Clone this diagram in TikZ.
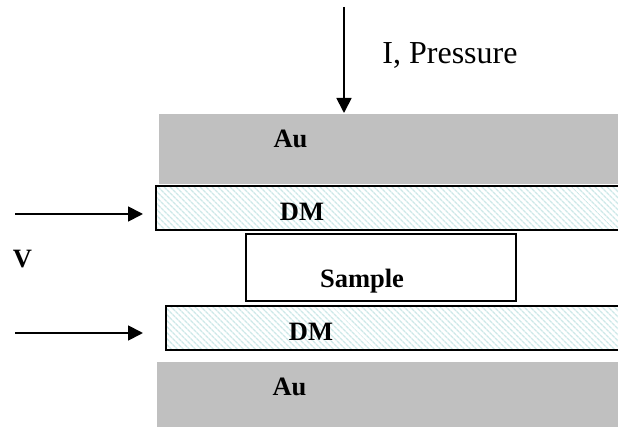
\documentclass[tikz,border=0pt]{standalone}
\usepackage{fontspec}
\setmainfont{Liberation Serif}
\usetikzlibrary{%
  arrows.meta,%
  patterns.meta,% hatch of the DM layers
  positioning%
}
\definecolor{augray}{RGB}{192,192,192}
\definecolor{dmhatch}{RGB}{205,232,232}

\begin{document}
\begin{tikzpicture}
  [
  x=1pt, y=-1pt, line width=1.8pt, >={Triangle[length=15pt,width=15pt]},
  goldlayer/.style={rectangle, inner sep=0pt, anchor=north west, fill=augray},
  dmlayer/.style={rectangle, inner sep=0pt, outer sep=0pt, anchor=north west, draw=black, line width=2pt,
    pattern={Lines[angle=-45,distance=4pt,line width=1.6pt]}, pattern color=dmhatch},
  samplebox/.style={rectangle, inner sep=0pt, outer sep=0pt, anchor=north west, draw=black, line width=2pt, fill=white},
  lbl/.style={inner sep=0pt, font=\fontsize{26.5}{30}\selectfont\bfseries},
  ]
  \useasboundingbox (0,0) rectangle (618,427);

  \node[goldlayer, minimum width=460pt, minimum height=70pt] (au1) at (158,113) {};
  \node[goldlayer, minimum width=462pt, minimum height=66pt] (au2) at (156,361) {};
  \node[dmlayer, minimum width=466pt, minimum height=44pt] (dm1) at (156,186) {};
  \node[dmlayer, minimum width=456pt, minimum height=44pt] (dm2) at (166,306) {};
  \node[samplebox, minimum width=270pt, minimum height=67.5pt] (sample) at (246,234) {};

  % labels
  \node[lbl] (au1lbl) at (290.5,139) {Au};
  \node[lbl] (au2lbl) at (289.5,387) {Au};
  \node[lbl] (dm1lbl) at (302,211.5) {DM};
  \node[lbl] (dm2lbl) at (311,331.5) {DM};
  \node[lbl] (samplelbl) at (362,281) {Sample};
  \node[lbl] (vlbl) at (22.5,259) {V};
  \node[inner sep=0pt, font=\fontsize{32}{36}\selectfont] (ilbl) at (450,55) {I, Pressure};

  % arrows
  \coordinate (itop) at (344,7);
  \coordinate (v1) at (15,214);
  \coordinate (v1end) at (143,214);
  \coordinate (v2) at (15,333);
  \coordinate (v2end) at (143,333);
  \draw[->] (itop) -- (itop |- au1.north);
  \draw[->] (v1) -- (v1end);
  \draw[->] (v2) -- (v2end);
\end{tikzpicture}
\end{document}
